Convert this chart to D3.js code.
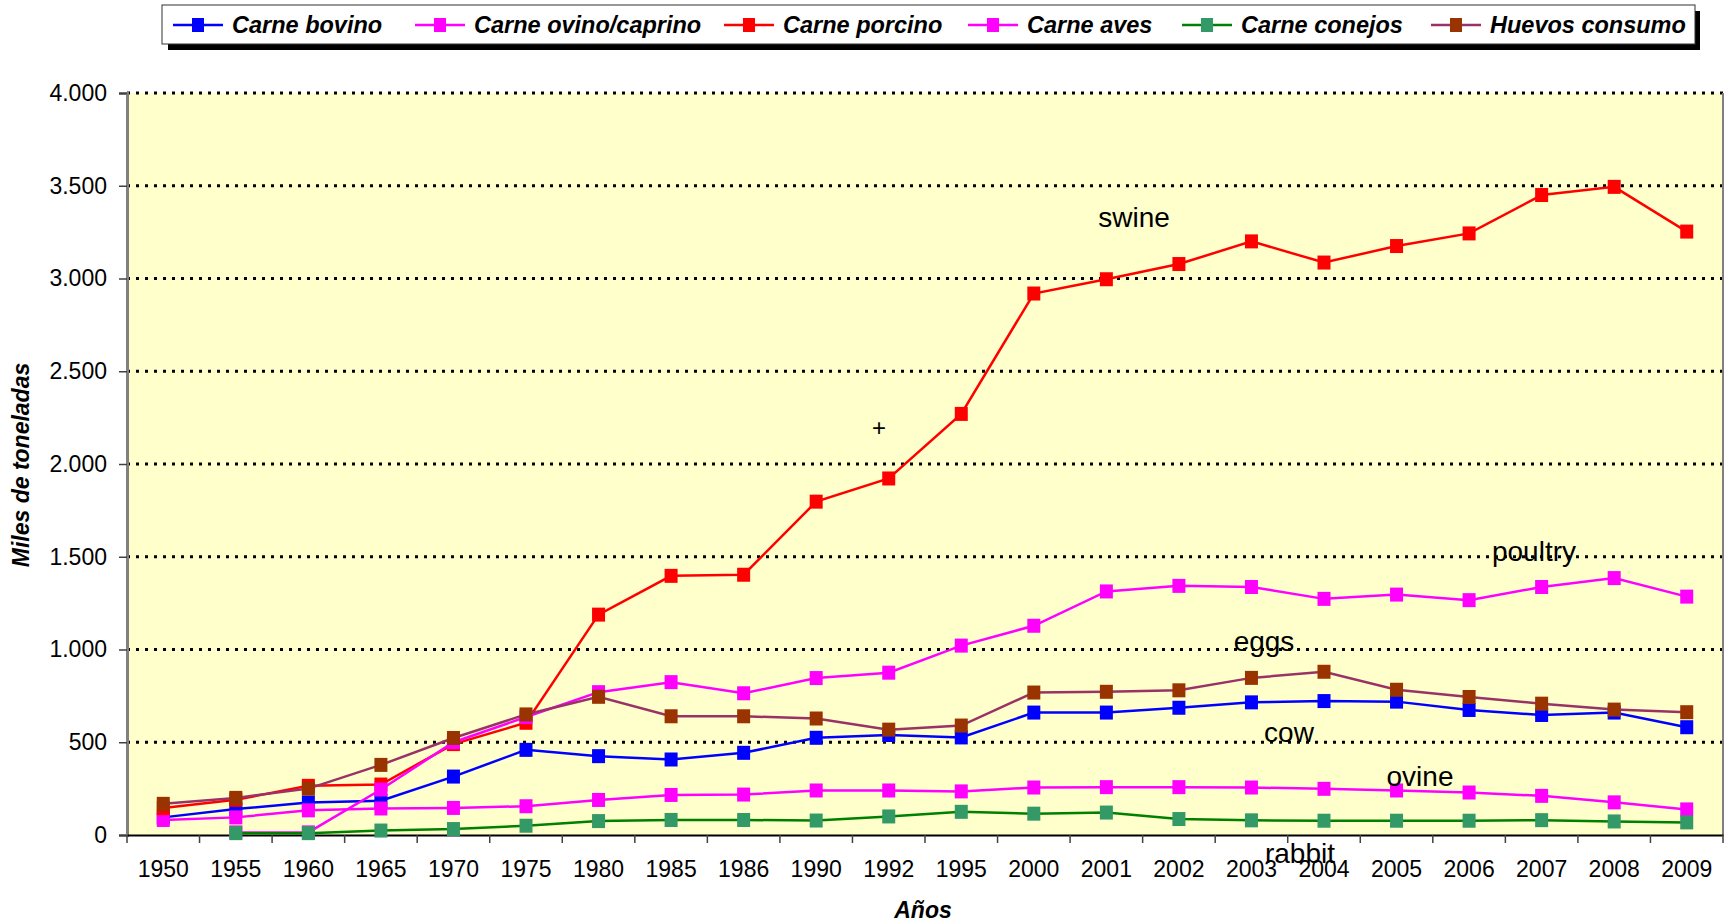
<!DOCTYPE html>
<html>
<head>
<meta charset="utf-8">
<script src="https://cdn.jsdelivr.net/npm/d3@7"></script>
<style>
  html, body { margin: 0; padding: 0; background: #ffffff; }
  svg { display: block; font-family: "Liberation Sans", Arial, sans-serif; }
</style>
</head>
<body>
<svg id="chart" width="1736" height="922"></svg>
<script>
// ---------- DATA ----------
const years = ["1950","1955","1960","1965","1970","1975","1980","1985","1986","1990","1992","1995","2000","2001","2002","2003","2004","2005","2006","2007","2008","2009"];
const bovino   = [95, 140, 175, 185, 315, 459, 425, 407, 443, 524, 539, 526, 660, 660, 686, 715, 722, 719, 674, 647, 660, 581];
const ovino    = [81, 95, 133, 143, 146, 155, 189, 216, 218, 240, 240, 235, 256, 258, 258, 256, 249, 240, 229, 211, 176, 138];
const porcino  = [145, 190, 265, 272, 490, 605, 1188, 1397, 1403, 1797, 1922, 2270, 2919, 2996, 3078, 3200, 3086, 3175, 3243, 3450, 3494, 3253];
const aves     = [null, 14, 14, 245, 500, 636, 770, 824, 764, 846, 875, 1021, 1128, 1313, 1343, 1337, 1273, 1296, 1266, 1337, 1385, 1285];
const conejos  = [null, 10, 10, 24, 32, 50, 75, 81, 81, 78, 100, 125, 115, 121, 86, 79, 77, 77, 77, 80, 73, 68];
const huevos   = [168, 200, 250, 378, 523, 650, 745, 640, 640, 628, 568, 590, 768, 772, 780, 847, 880, 783, 744, 708, 676, 662];
const seriesNames = ["Carne bovino","Carne ovino/caprino","Carne porcino","Carne aves","Carne conejos","Huevos consumo"];
const yTicks = [0, 500, 1000, 1500, 2000, 2500, 3000, 3500, 4000];
const annotations = ["swine", "+", "poultry", "eggs", "cow", "ovine", "rabbit"];

(function () {
// ---------- STYLE ----------
const lineColors   = ["#0000FF", "#FF00FF", "#FF0000", "#FF00FF", "#008000", "#993366"];
const markerColors = ["#0000FF", "#FF00FF", "#FF0000", "#FF00FF", "#339966", "#993300"];
const allValues = [bovino, ovino, porcino, aves, conejos, huevos];

const svg = d3.select("#chart");
const pL = 127, pR = 1723, pT = 93, pB = 835;

const x = d3.scaleBand().domain(years).range([pL, pR]).paddingInner(0).paddingOuter(0);
const y = d3.scaleLinear().domain([0, 4000]).range([pB, pT]);
const cx = d => x(d) + x.bandwidth() / 2;

const loc = d3.formatLocale({decimal: ",", thousands: ".", grouping: [3], currency: ["", ""]});
const fmt = loc.format(",");

// plot background
svg.append("rect").attr("x", pL).attr("y", pT).attr("width", pR - pL).attr("height", pB - pT)
  .attr("fill", "#FFFFCC");

// gridlines
svg.append("g").selectAll("line").data(yTicks.filter(t => t > 0)).join("line")
  .attr("x1", pL).attr("x2", pR)
  .attr("y1", d => y(d)).attr("y2", d => y(d))
  .attr("stroke", "#000").attr("stroke-width", 3).attr("stroke-dasharray", "3,6");

// right border
svg.append("line").attr("x1", pR).attr("x2", pR).attr("y1", pT).attr("y2", pB)
  .attr("stroke", "#808080").attr("stroke-width", 2);

// Y axis
const yAxis = d3.axisLeft(y).tickValues(yTicks).tickFormat(d => fmt(d)).tickSize(8).tickPadding(12);
const gy = svg.append("g").attr("transform", `translate(${pL},0)`).call(yAxis);
gy.select(".domain").attr("stroke", "#808080").attr("stroke-width", 3);
gy.selectAll(".tick line").attr("stroke", "#404040").attr("stroke-width", 1.5);
gy.selectAll(".tick text").attr("font-size", 23).attr("fill", "#000")
  .attr("font-family", "Liberation Sans, Arial, sans-serif");

// X axis
const xAxis = d3.axisBottom(x).tickSize(0).tickPadding(26);
const gx = svg.append("g").attr("transform", `translate(0,${pB})`).call(xAxis);
gx.select(".domain").attr("stroke", "#000").attr("stroke-width", 2);
gx.selectAll(".tick text").attr("font-size", 23).attr("fill", "#000")
  .attr("font-family", "Liberation Sans, Arial, sans-serif");
const boundaries = years.map(d => x(d)).concat([pR]);
gx.append("g").selectAll("line").data(boundaries).join("line")
  .attr("x1", d => d).attr("x2", d => d).attr("y1", 0).attr("y2", 8)
  .attr("stroke", "#404040").attr("stroke-width", 1.5);

// Axis titles
svg.append("text").attr("x", 923).attr("y", 918).attr("text-anchor", "middle")
  .attr("font-size", 23).attr("font-weight", "bold").attr("font-style", "italic").text("Años");
svg.append("text").attr("transform", "translate(29,465) rotate(-90)").attr("text-anchor", "middle")
  .attr("font-size", 23).attr("font-weight", "bold").attr("font-style", "italic").text("Miles de toneladas");

// Series
const ms = 14;
allValues.forEach((vals, i) => {
  const pts = years.map((yr, j) => ({yr, v: vals[j]}));
  const line = d3.line().defined(d => d.v !== null).x(d => cx(d.yr)).y(d => y(d.v));
  const g = svg.append("g");
  g.append("path").datum(pts).attr("d", line).attr("fill", "none")
    .attr("stroke", lineColors[i]).attr("stroke-width", 2.5);
  g.selectAll("rect").data(pts.filter(d => d.v !== null)).join("rect")
    .attr("x", d => cx(d.yr) - ms / 2 + 0.5).attr("y", d => y(d.v) - ms / 2)
    .attr("width", ms - 1).attr("height", ms)
    .attr("fill", markerColors[i]);
});

// Annotations
const annPos = [[1134, 220, 28], [879, 430, 24], [1534, 554, 28], [1264, 644, 28], [1289, 735, 28], [1420, 779, 28], [1300, 856, 28]];
svg.append("g").selectAll("text").data(annotations).join("text")
  .attr("x", (d, i) => annPos[i][0]).attr("y", (d, i) => annPos[i][1])
  .attr("font-size", (d, i) => annPos[i][2])
  .attr("text-anchor", "middle").attr("dominant-baseline", "middle")
  .attr("fill", "#000").text(d => d);

// Legend
const lg = svg.append("g");
lg.append("rect").attr("x", 168).attr("y", 11).attr("width", 1532).attr("height", 39).attr("fill", "#000");
lg.append("rect").attr("x", 162).attr("y", 5).attr("width", 1533).attr("height", 39)
  .attr("fill", "#fff").attr("stroke", "#333").attr("stroke-width", 1);
const legX = [173, 415, 724, 968, 1182, 1431];
const legY = 25;
seriesNames.forEach((name, i) => {
  const x0 = legX[i];
  lg.append("line").attr("x1", x0).attr("x2", x0 + 50).attr("y1", legY).attr("y2", legY)
    .attr("stroke", lineColors[i]).attr("stroke-width", 2.5);
  lg.append("rect").attr("x", x0 + 25 - 6).attr("y", legY - 7).attr("width", 12).attr("height", 14)
    .attr("fill", markerColors[i]);
  lg.append("text").attr("x", x0 + 59).attr("y", legY + 8)
    .attr("font-size", 23.5).attr("font-weight", "bold").attr("font-style", "italic").attr("fill", "#000")
    .text(name);
});
})();
</script>
</body>
</html>
